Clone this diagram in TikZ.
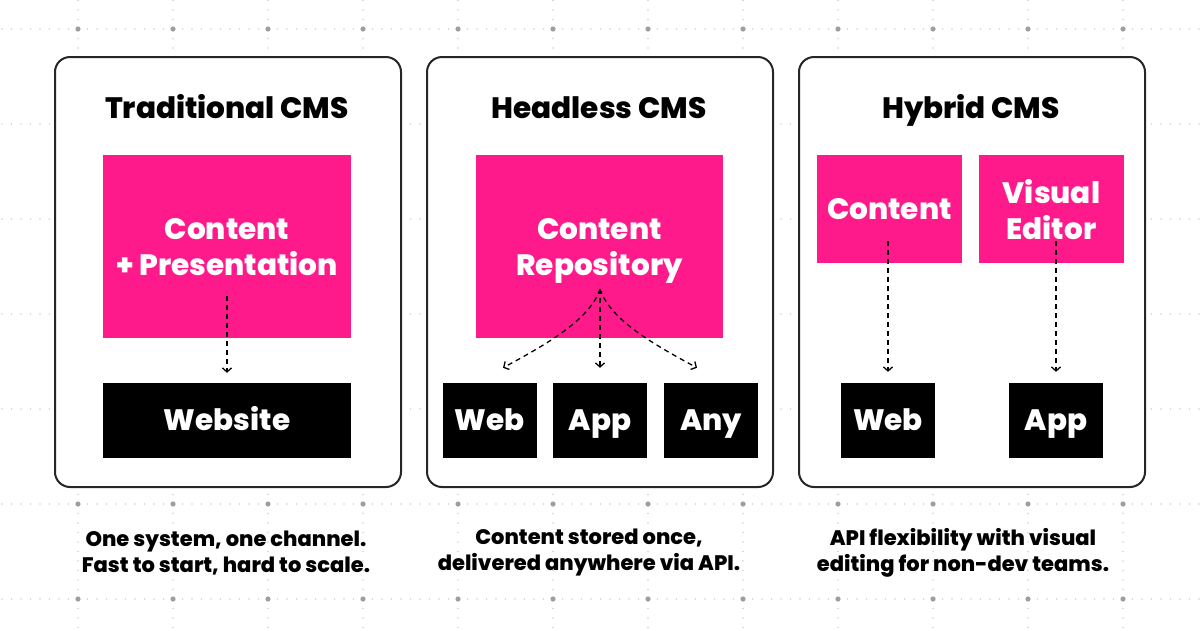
\documentclass[tikz,border=0pt]{standalone}
\usepackage{fontspec}
\setmainfont{Poppins}[BoldFont={* ExtraBold}]
\usetikzlibrary{arrows.meta}
\definecolor{cmspink}{HTML}{FF1A8C}
\definecolor{gridgray}{HTML}{9E9E9E}
\definecolor{dotgray}{HTML}{D2D2D2}

\begin{document}
\begin{tikzpicture}[x=1pt,y=-1pt,
    panel/.style={draw=black!85,line width=2pt,fill=white,rounded corners=15pt},
    pinkbox/.style={fill=cmspink,text=white,font=\fontsize{29.5}{36}\selectfont\bfseries,align=center,inner sep=0pt,text depth=0pt},
    oneline/.style={text height=20.5pt,text depth=0pt},
    blackbox/.style={fill=black,text=white,font=\fontsize{29.5}{30}\selectfont\bfseries,inner sep=0pt,minimum height=75pt,minimum width=94pt,oneline},
    title/.style={font=\fontsize{29.5}{30}\selectfont\bfseries,oneline},
    caption/.style={font=\fontsize{21}{26}\selectfont\bfseries,align=center},
    gridline/.style={dotgray,line width=1.6pt,line cap=round,dash pattern=on 0pt off 9.5pt},
    flow/.style={line width=1.3pt,dash pattern=on 5pt off 4pt,-{Straight Barb[length=4pt,width=9pt]}}]
        \useasboundingbox (0,0) rectangle (1200,630);
        \foreach \gy in {29,124,...,599}
            \draw[gridline] (2,\gy) -- (1200,\gy);
        \foreach \gx in {78,173,...,1123}
            \draw[gridline] (\gx,0.5) -- (\gx,630);
        \foreach \gx in {78,173,...,1123}
            \foreach \gy in {29,124,...,599}
                \fill[gridgray] (\gx,\gy) circle (2.6pt);

        \draw[panel] (55,57) rectangle (401,487);
        \draw[panel] (427,57) rectangle (773,487);
        \draw[panel] (799,57) rectangle (1145,487);

        % traditional
        \node[title] (trad) at (227,108) {Traditional CMS};
        \node[pinkbox,minimum width=248pt,minimum height=183pt] (tradcontent) at (227,246.5) {Content\\+ Presentation};
        \node[blackbox,minimum width=248pt] (website) at (227,420.5) {Website};
        \coordinate (tradsrc) at (227,296);
        \draw[flow,shorten >=10pt] (tradsrc) -- (website.north);

        % headless
        \node[title] (headless) at (599,108) {Headless CMS};
        \node[pinkbox,minimum width=247pt,minimum height=183pt] (repo) at (599.5,246.5) {Content\\Repository};
        \node[blackbox] (web) at (489.5,420.5) {Web};
        \node[blackbox] (app) at (600,420.5) {App};
        \node[blackbox] (any) at (711,420.5) {Any};
        \coordinate (reposrc) at (600,289);
        \draw[flow] (reposrc) .. controls (590,320) and (545,345) .. ([xshift=13.5pt,yshift=15pt]web.north);
        \draw[flow] (reposrc) -- ([yshift=15pt]app.north);
        \draw[flow] (reposrc) .. controls (610,320) and (655,345) .. ([xshift=-14pt,yshift=15pt]any.north);

        % hybrid
        \node[title] (hybrid) at (971,108) {Hybrid CMS};
        \node[pinkbox,oneline,minimum width=145pt,minimum height=108pt] (hybcontent) at (889.5,209) {Content};
        \node[pinkbox,minimum width=145pt,minimum height=108pt] (editor) at (1051.5,209) {Visual\\Editor};
        \node[blackbox] (hybweb) at (888,420.5) {Web};
        \node[blackbox] (hybapp) at (1056,420.5) {App};
        \coordinate (contentsrc) at (888,241);
        \coordinate (editorsrc) at (1056,241);
        \draw[flow,shorten >=11pt] (contentsrc) -- (hybweb.north);
        \draw[flow,shorten >=11pt] (editorsrc) -- (hybapp.north);

        \node[caption] (tradnote) at (226,553) {One system, one channel.\\Fast to start, hard to scale.};
        \node[caption] (headnote) at (589,553) {Content stored once,\\delivered anywhere via API.};
        \node[caption] (hybnote) at (963,553) {API flexibility with visual\\editing for non-dev teams.};
\end{tikzpicture}
\end{document}
